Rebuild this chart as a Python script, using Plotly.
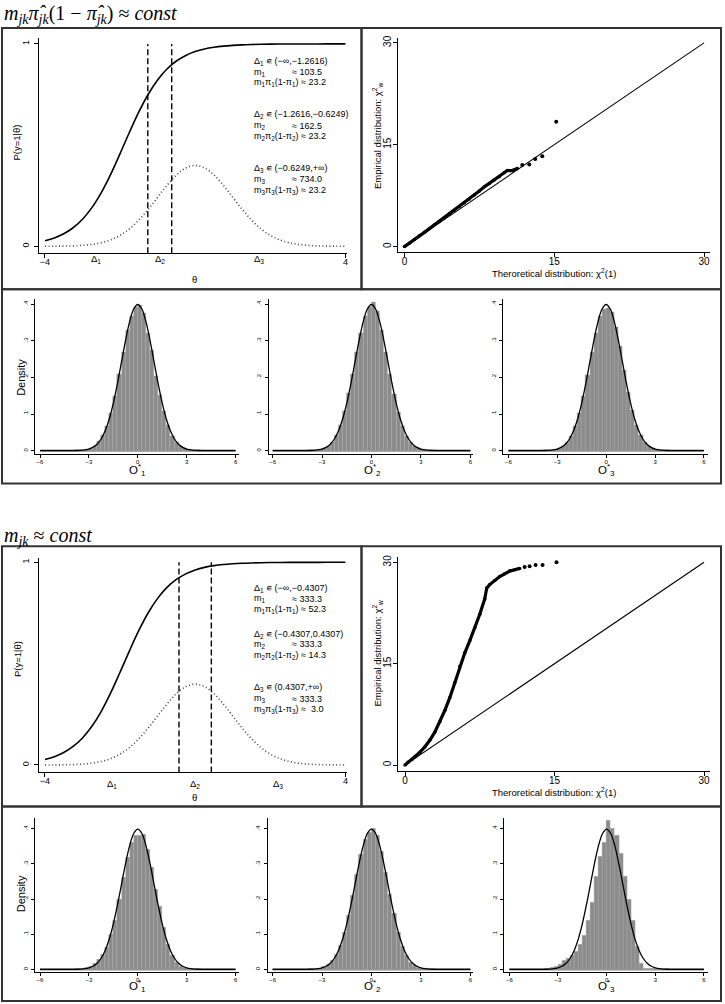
import plotly.graph_objects as go

W, H = 725, 1004
SANS = "Liberation Sans, Arial, sans-serif"
SERIF = "Liberation Serif, DejaVu Serif, serif"

# ------------------------------------------------------------------ data
theta = [-4.0, -3.75, -3.5, -3.25, -3.0, -2.75, -2.5, -2.25, -2.0, -1.75, -1.5,
         -1.25, -1.0, -0.75, -0.5, -0.25, 0.0, 0.25, 0.5, 0.75, 1.0, 1.25, 1.5,
         1.75, 2.0, 2.25, 2.5, 2.75, 3.0, 3.25, 3.5, 3.75, 4.0]
p_logistic = [0.0274, 0.0413, 0.0618, 0.0915, 0.1335, 0.1908, 0.2650, 0.3555,
              0.4576, 0.5634, 0.6637, 0.7512, 0.8220, 0.8760, 0.9153, 0.9430,
              0.9619, 0.9748, 0.9834, 0.9891, 0.9928, 0.9953, 0.9969, 0.9980,
              0.9987, 0.9991, 0.9994, 0.9996, 0.9997, 0.9998, 0.9999, 0.9999, 1.0]
dens_theta = [0.0001, 0.0004, 0.0009, 0.0020, 0.0044, 0.0091, 0.0175, 0.0317,
              0.0540, 0.0863, 0.1295, 0.1826, 0.2420, 0.3011, 0.3521, 0.3867,
              0.3989, 0.3867, 0.3521, 0.3011, 0.2420, 0.1826, 0.1295, 0.0863,
              0.0540, 0.0317, 0.0175, 0.0091, 0.0044, 0.0020, 0.0009, 0.0004, 0.0001]

cuts_top = [-1.2616, -0.6249]
cuts_bottom = [-0.4307, 0.4307]
intervals_top = ["(−∞,−1.2616)", "(−1.2616,−0.6249)", "(−0.6249,+∞)"]
m_top = ["103.5", "162.5", "734.0"]
mpi_top = ["23.2", "23.2", "23.2"]
intervals_bottom = ["(−∞,−0.4307)", "(−0.4307,0.4307)", "(0.4307,+∞)"]
m_bottom = ["333.3", "333.3", "333.3"]
mpi_bottom = ["52.3", "14.3", " 3.0"]

# QQ plots (theoretical chi2(1) vs empirical chi2_w)
qq_top_dense_x = [0, 0.5, 1, 1.5, 2, 2.5, 3, 3.5, 4, 4.5, 5, 5.5, 6, 6.5, 7, 7.5,
                  8, 8.5, 9, 9.5, 10, 10.3, 10.8, 11.3]
qq_top_dense_y = [0, 0.5, 1.05, 1.6, 2.1, 2.65, 3.2, 3.7, 4.25, 4.8, 5.35, 5.9,
                  6.45, 7.0, 7.6, 8.2, 8.8, 9.3, 9.8, 10.3, 10.9, 11.2, 11.2, 11.5]
qq_top_sparse_x = [11.8, 12.5, 13.1, 13.8, 15.2]
qq_top_sparse_y = [12.0, 12.1, 12.9, 13.3, 18.4]
qq_bot_dense_x = [0, 0.3, 0.7, 1.0, 1.5, 2.0, 2.5, 3.0, 3.5, 4.0, 4.5, 5.0, 5.5,
                  6.0, 6.5, 7.0, 7.5, 8.0, 8.2, 8.5, 9.0, 9.5, 10.0, 10.5, 11.0, 11.5]
qq_bot_dense_y = [0, 0.4, 0.8, 1.2, 1.9, 2.7, 3.7, 4.9, 6.4, 8.1, 10.0, 12.2, 14.6,
                  16.6, 18.4, 20.3, 22.3, 24.6, 26.2, 26.7, 27.3, 27.9, 28.3, 28.7,
                  28.9, 29.1]
qq_bot_sparse_x = [12.0, 12.5, 13.1, 13.8, 15.2]
qq_bot_sparse_y = [29.3, 29.4, 29.6, 29.6, 30.0]
ref_line = [0, 30]

# Histograms of O*_1, O*_2, O*_3 (bin width 0.25)
bin_centers = [-3.625, -3.375, -3.125, -2.875, -2.625, -2.375, -2.125, -1.875,
               -1.625, -1.375, -1.125, -0.875, -0.625, -0.375, -0.125, 0.125,
               0.375, 0.625, 0.875, 1.125, 1.375, 1.625, 1.875, 2.125, 2.375,
               2.625, 2.875, 3.125, 3.375, 3.625]
bin_width = 0.25
hist_top_1 = [0.001, 0.002, 0.003, 0.007, 0.013, 0.025, 0.043, 0.067, 0.103, 0.150,
              0.208, 0.268, 0.330, 0.366, 0.392, 0.398, 0.375, 0.322, 0.274, 0.203,
              0.152, 0.108, 0.071, 0.041, 0.022, 0.013, 0.007, 0.003, 0.001, 0.001]
hist_top_2 = [0.001, 0.002, 0.003, 0.006, 0.012, 0.024, 0.042, 0.070, 0.108, 0.158,
              0.210, 0.268, 0.322, 0.368, 0.392, 0.405, 0.380, 0.330, 0.270, 0.210,
              0.154, 0.106, 0.066, 0.040, 0.023, 0.012, 0.006, 0.003, 0.001, 0.001]
hist_top_3 = [0.001, 0.002, 0.003, 0.006, 0.012, 0.023, 0.040, 0.066, 0.102, 0.150,
              0.207, 0.268, 0.322, 0.366, 0.385, 0.388, 0.378, 0.338, 0.285, 0.220,
              0.160, 0.110, 0.070, 0.042, 0.024, 0.013, 0.006, 0.003, 0.001, 0.001]
hist_bot_1 = [0.001, 0.002, 0.004, 0.008, 0.016, 0.028, 0.042, 0.063, 0.098, 0.140,
              0.200, 0.262, 0.318, 0.362, 0.382, 0.380, 0.385, 0.340, 0.290, 0.228,
              0.180, 0.120, 0.072, 0.040, 0.020, 0.009, 0.004, 0.002, 0.001, 0.000]
hist_bot_2 = [0.001, 0.002, 0.003, 0.007, 0.013, 0.025, 0.042, 0.069, 0.106, 0.153,
              0.210, 0.270, 0.326, 0.370, 0.390, 0.402, 0.380, 0.334, 0.276, 0.214,
              0.158, 0.104, 0.064, 0.038, 0.020, 0.010, 0.005, 0.002, 0.001, 0.000]
hist_bot_3 = [0.003, 0.005, 0.008, 0.015, 0.024, 0.030, 0.040, 0.050, 0.070, 0.095,
              0.140, 0.190, 0.265, 0.320, 0.360, 0.423, 0.400, 0.382, 0.330, 0.265,
              0.200, 0.140, 0.065, 0.018, 0.0, 0.0, 0.0, 0.0, 0.0, 0.0]
curve_x = [-6.0, -5.75, -5.5, -5.25, -5.0, -4.75, -4.5, -4.25, -4.0, -3.75, -3.5,
           -3.25, -3.0, -2.75, -2.5, -2.25, -2.0, -1.75, -1.5, -1.25, -1.0, -0.75,
           -0.5, -0.25, 0.0, 0.25, 0.5, 0.75, 1.0, 1.25, 1.5, 1.75, 2.0, 2.25, 2.5,
           2.75, 3.0, 3.25, 3.5, 3.75, 4.0, 4.25, 4.5, 4.75, 5.0, 5.25, 5.5, 5.75, 6.0]
curve_y = [0, 0, 0, 0, 0, 0.00001, 0.00002, 0.00005, 0.00013, 0.00035, 0.00087,
           0.00203, 0.00443, 0.00909, 0.01753, 0.03174, 0.05399, 0.08628, 0.12952,
           0.18265, 0.24197, 0.30114, 0.35207, 0.38667, 0.39894, 0.38667, 0.35207,
           0.30114, 0.24197, 0.18265, 0.12952, 0.08628, 0.05399, 0.03174, 0.01753,
           0.00909, 0.00443, 0.00203, 0.00087, 0.00035, 0.00013, 0.00005, 0.00002,
           0.00001, 0, 0, 0, 0, 0]
hist_range = [-6, 6]
hist_ticks = [-6, -3, 0, 3, 6]
hist_yticks = [0, 0.1, 0.2, 0.3, 0.4]
hist_yticktext = ["0", ".1", ".2", ".3", ".4"]
hist_labels = ["O<sup>*</sup><sub>1</sub>", "O<sup>*</sup><sub>2</sub>", "O<sup>*</sup><sub>3</sub>"]

# ------------------------------------------------------------------ helpers
def px(x):
    return x / W

def py(y):
    return 1 - y / H

def axis(dom, rng, tickvals, ticktext=None, size=9, angle=0, anchor=None, ticklen=4,
         standoff=-4):
    d = dict(domain=dom, range=rng, tickvals=tickvals, ticks="outside", ticklen=ticklen,
             tickwidth=1, tickcolor="black", showline=True, linecolor="black",
             linewidth=1, showgrid=False, zeroline=False, fixedrange=True,
             tickfont=dict(size=size, family=SANS, color="black"),
             tickangle=angle, anchor=anchor, ticklabelstandoff=standoff)
    if ticktext is not None:
        d["ticktext"] = ticktext
    return d

fig = go.Figure()
layout = {}
annotations = []
shapes = []

def ann(text, x, y, size, xanchor="left", yanchor="middle", angle=0, family=SANS):
    annotations.append(dict(text=text, x=px(x), y=py(y), xref="paper", yref="paper",
                            showarrow=False, xanchor=xanchor, yanchor=yanchor,
                            textangle=angle,
                            font=dict(size=size, family=family, color="black")))

def box(x0, y0, x1, y1):
    shapes.append(dict(type="rect", xref="paper", yref="paper", x0=px(x0), x1=px(x1),
                       y0=py(y1), y1=py(y0), line=dict(color="#333333", width=2),
                       fillcolor="rgba(0,0,0,0)", layer="above"))

# ------------------------------------------------------------------ theta panels
def theta_panel(idx, ydom_px, yrange, cuts, intervals, ms, mpis, text_rows, delta_y, title_y, ylab_y):
    xs = "x" if idx == 1 else f"x{idx}"
    ys = "y" if idx == 1 else f"y{idx}"
    xk = "xaxis" if idx == 1 else f"xaxis{idx}"
    yk = "yaxis" if idx == 1 else f"yaxis{idx}"
    layout[xk] = axis([px(39), px(347)], [-4.16, 4.03], [theta[0], theta[-1]], anchor=ys)
    layout[yk] = axis([py(ydom_px[0]), py(ydom_px[1])], yrange, [0, 1], angle=-90, anchor=xs,
                      standoff=1)
    fig.add_trace(go.Scatter(x=theta, y=dens_theta, mode="lines", xaxis=xs, yaxis=ys,
                             line=dict(color="#444444", width=1.6, dash="1px,2.5px",
                                       shape="spline")))
    fig.add_trace(go.Scatter(x=theta, y=p_logistic, mode="lines", xaxis=xs, yaxis=ys,
                             line=dict(color="black", width=1.6, shape="spline")))
    for c in cuts:
        shapes.append(dict(type="line", xref=xs, yref=ys, x0=c, x1=c, y0=yrange[0], y1=1,
                           line=dict(color="black", width=1.4, dash="6px,3px")))
    edges = [theta[0]] + cuts + [theta[-1]]
    for i in range(3):
        mid = (edges[i] + edges[i + 1]) / 2
        annotations.append(dict(text=f"Δ<sub>{i+1}</sub>", x=mid, y=py(delta_y), xref=xs,
                                yref="paper", showarrow=False, xanchor="center",
                                yanchor="middle",
                                font=dict(size=9.5, family=SANS, color="black")))
        r = text_rows[i]
        ann(f"Δ<sub>{i+1}</sub> ∊ {intervals[i]}", 252, r[0], 9)
        ann(f"m<sub>{i+1}</sub>", 252, r[1], 9)
        ann(f"≈ {ms[i]}", 290, r[1], 9)
        ann(f"m<sub>{i+1}</sub>π<sub>{i+1}</sub>(1-π<sub>{i+1}</sub>) ≈ {mpis[i]}", 252, r[2], 9)
    ann("P(y=1|θ)", 17, ylab_y, 9.5, xanchor="center", angle=-90)
    ann("θ", 195, title_y, 9.5, xanchor="center")

theta_panel(1, (251, 35), [-0.0345, 1.0296], cuts_top, intervals_top, m_top, mpi_top,
            [(58.3, 69.3, 80), (112.3, 123.3, 134), (165.7, 176.7, 187.7)], 257, 277, 140)
theta_panel(6, (771.7, 556.7), [-0.0365, 1.021], cuts_bottom, intervals_bottom, m_bottom,
            mpi_bottom, [(587.3, 597.7, 608.3), (633.3, 643.3, 654.3), (686.7, 697.7, 708.3)],
            783, 797, 658)

# ------------------------------------------------------------------ QQ panels
def qq_panel(idx, ydom_px, yrange, xrange, dx, dy, sx, sy, xt_y, yt_y):
    xs, ys = f"x{idx}", f"y{idx}"
    layout[f"xaxis{idx}"] = axis([px(399), px(711)], xrange, [0, 15, 30], size=10, anchor=ys)
    layout[f"yaxis{idx}"] = axis([py(ydom_px[0]), py(ydom_px[1])], yrange, [0, 15, 30],
                                 size=10, angle=-90, anchor=xs, standoff=-2)
    fig.add_trace(go.Scatter(x=ref_line, y=ref_line, mode="lines", xaxis=xs, yaxis=ys,
                             line=dict(color="black", width=1.1)))
    fig.add_trace(go.Scatter(x=dx, y=dy, mode="lines+markers", xaxis=xs, yaxis=ys,
                             line=dict(color="black", width=3.2),
                             marker=dict(color="black", size=3.5)))
    fig.add_trace(go.Scatter(x=sx, y=sy, mode="markers", xaxis=xs, yaxis=ys,
                             marker=dict(color="black", size=4)))
    ann("Theroretical distribution: χ<sup>2</sup>(1)", 555, xt_y, 9.5, xanchor="center")
    ann("Empirical distribution: χ<sup>2</sup><sub>w</sub>", 378, yt_y, 9.5,
        xanchor="center", angle=-90)

qq_panel(2, (249.3, 35), [-0.73, 30.73], [-0.6, 30.6], qq_top_dense_x, qq_top_dense_y,
         qq_top_sparse_x, qq_top_sparse_y, 271, 133)
qq_panel(7, (770, 555.7), [-0.84, 30.78], [-0.66, 30.6], qq_bot_dense_x, qq_bot_dense_y,
         qq_bot_sparse_x, qq_bot_sparse_y, 791, 652)

# ------------------------------------------------------------------ histogram panels
def hist_row(first_idx, ydom_px, yrange, xdoms, xranges, series, label_y, dens_y):
    for k in range(3):
        idx = first_idx + k
        xs, ys = f"x{idx}", f"y{idx}"
        layout[f"xaxis{idx}"] = axis([px(xdoms[k][0]), px(xdoms[k][1])], xranges[k],
                                     hist_ticks, size=6, anchor=ys, ticklen=3, standoff=-1)
        layout[f"yaxis{idx}"] = axis([py(ydom_px[0]), py(ydom_px[1])], yrange, hist_yticks,
                                     ticktext=hist_yticktext, size=6, angle=-90, anchor=xs,
                                     ticklen=3, standoff=1)
        shapes.append(dict(type="line", xref=xs, yref=ys, x0=hist_range[0], x1=hist_range[1],
                           y0=0, y1=0, line=dict(color="#8c8c8c", width=2.2), layer="below"))
        fig.add_trace(go.Bar(x=bin_centers, y=series[k], width=bin_width, xaxis=xs, yaxis=ys,
                             marker=dict(color="#8c8c8c", line=dict(color="#a8a8a8", width=0.4))))
        fig.add_trace(go.Scatter(x=curve_x, y=curve_y, mode="lines", xaxis=xs, yaxis=ys,
                                 line=dict(color="black", width=1.3, shape="spline")))
    ann("Density", 21, dens_y, 11, xanchor="center", angle=-90)
    for k, cx in enumerate([138, 373, 607]):
        ann(hist_labels[k], cx, label_y, 11.5, xanchor="center")

hist_row(3, (452, 297), [-0.0082, 0.4136],
         [(35, 239), (269, 474), (504, 709)],
         [[-6.31, 6.19], [-6.24, 6.18], [-6.31, 6.25]],
         [hist_top_1, hist_top_2, hist_top_3], 468, 375)
hist_row(8, (972, 817), [-0.0077, 0.432],
         [(35, 239), (268, 474), (505, 709)],
         [[-6.31, 6.19], [-6.3, 6.18], [-6.31, 6.25]],
         [hist_bot_1, hist_bot_2, hist_bot_3], 986, 893)

# ------------------------------------------------------------------ boxes & titles
box(2, 25, 362, 287)
box(362, 25, 722, 287)
box(2, 287, 722, 482)
box(2, 545, 362, 806)
box(362, 545, 722, 806)
box(2, 806, 722, 1001)

ann("<i>m</i><sub><i>jk</i></sub><i>π̂</i><sub><i>jk</i></sub>(1 − <i>π̂</i><sub><i>jk</i></sub>) ≈ <i>const</i>",
    2, 12, 20, family=SERIF)
ann("<i>m</i><sub><i>jk</i></sub> ≈ <i>const</i>", 2, 535, 20, family=SERIF)

fig.update_layout(width=W, height=H, autosize=False, margin=dict(l=0, r=0, t=0, b=0),
                  paper_bgcolor="white", plot_bgcolor="white", showlegend=False,
                  bargap=0, annotations=annotations, shapes=shapes, **layout)
fig.write_html("out.html", config={"displayModeBar": False},
               post_script="document.body.style.margin='0px';document.body.style.overflow='hidden';")
